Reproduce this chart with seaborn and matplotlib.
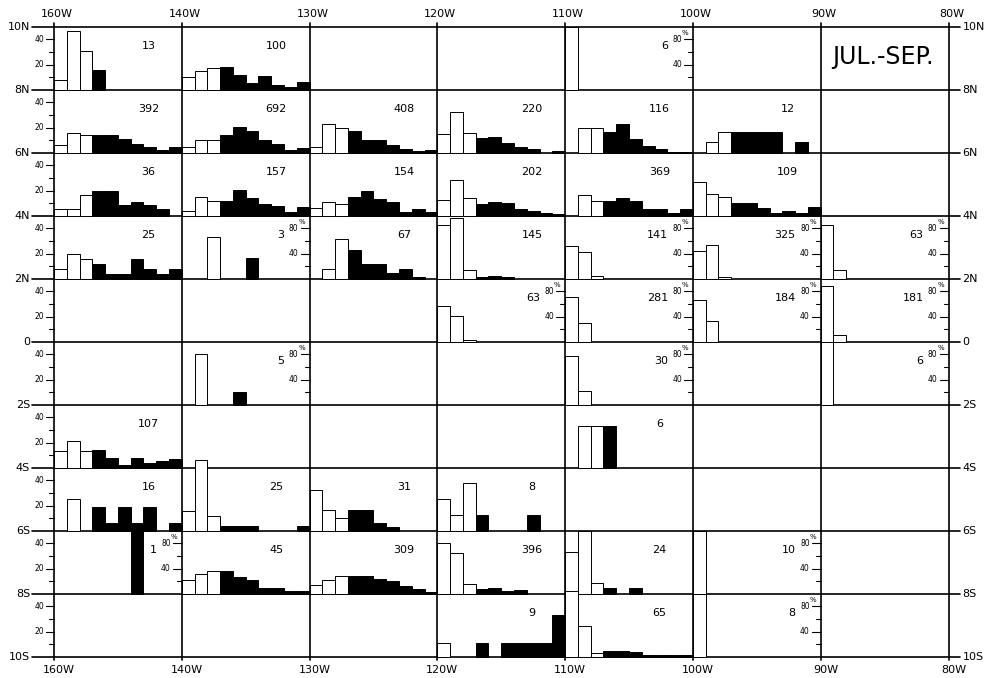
import matplotlib
matplotlib.use("Agg")
import matplotlib.pyplot as plt
import seaborn as sns
import pandas as pd
import numpy as np

sns.set_theme(style="white")
plt.rcParams["font.family"] = ["DejaVu Sans"]
plt.rcParams["text.color"] = "black"

lon_labels = ["160W", "140W", "130W", "120W", "110W", "100W", "90W", "80W"]
lat_labels = ["10N", "8N", "6N", "4N", "2N", "0", "2S", "4S", "6S", "8S", "10S"]
season = "JUL.-SEP."

# one list per 2-degree band:
# (west edge of box, number of obs, top tick of the % scale, % in each of 10 classes)
band_10N_8N = [
    ("160W", 13, 40, [7.7, 46.2, 30.8, 15.4, 0, 0, 0, 0, 0, 0]),
    ("140W", 100, 40, [10, 15, 17, 18, 12, 5, 11, 4, 2, 6]),
    ("110W", 6, 80, [100, 0, 0, 0, 0, 0, 0, 0, 0, 0]),
]
band_8N_6N = [
    ("160W", 392, 40, [6.2, 16, 14.4, 13.9, 14.4, 11.2, 6.7, 4.8, 2.1, 4.5]),
    ("140W", 692, 40, [4.5, 10.4, 10.4, 14.1, 20.5, 17.3, 10.4, 6.9, 2.1, 3.7]),
    ("130W", 408, 40, [4.5, 22.4, 19.5, 17.3, 9.9, 9.9, 5.9, 2.9, 1.3, 1.9]),
    ("120W", 220, 40, [14.7, 32, 15.5, 11.5, 12.3, 7.5, 4.3, 2.7, 0, 1.6]),
    ("110W", 116, 40, [0, 20, 20, 16.5, 23, 10.7, 5.3, 2.7, 0.8, 0.8]),
    ("100W", 12, 40, [0, 8.3, 16.7, 16.7, 16.7, 16.7, 16.7, 0, 8.3, 0]),
]
band_6N_4N = [
    ("160W", 36, 40, [5.6, 5.6, 16.7, 19.4, 19.4, 8.3, 11.1, 8.3, 5.6, 0]),
    ("140W", 157, 40, [3.7, 14.7, 11.5, 11.5, 20.5, 13.9, 9.1, 7.7, 3.2, 6.7]),
    ("130W", 154, 40, [6, 11, 9.5, 15, 20, 13, 11, 3, 5.5, 3]),
    ("120W", 202, 40, [12.3, 28.3, 14.4, 9.6, 10.7, 10.4, 5.6, 3.5, 1.9, 1.6]),
    ("110W", 369, 40, [0, 16.3, 11.7, 11.5, 13.9, 12, 5.6, 5.3, 2.1, 5.3]),
    ("100W", 109, 40, [26.7, 17.3, 14.7, 10.1, 10.1, 6.4, 2.1, 3.5, 2.1, 6.7]),
]
band_4N_2N = [
    ("160W", 25, 40, [8, 20, 16, 12, 4, 4, 16, 8, 4, 8]),
    ("140W", 3, 80, [0, 0, 66.7, 0, 0, 33.3, 0, 0, 0, 0]),
    ("130W", 67, 40, [0, 7.5, 31.3, 22.4, 11.9, 11.9, 4.5, 7.5, 1.5, 0]),
    ("120W", 145, 40, [43, 48, 6.7, 1.1, 1.9, 1.1, 0, 0, 0, 0]),
    ("110W", 141, 80, [52, 43, 5, 0, 0, 0, 0, 0, 0, 0]),
    ("100W", 325, 80, [44, 53, 3, 0, 0, 0, 0, 0, 0, 0]),
    ("90W", 63, 80, [86, 14, 0, 0, 0, 0, 0, 0, 0, 0]),
]
band_2N_0 = [
    ("120W", 63, 80, [57, 41, 2, 0, 0, 0, 0, 0, 0, 0]),
    ("110W", 281, 80, [71, 29, 0, 0, 0, 0, 0, 0, 0, 0]),
    ("100W", 184, 80, [66, 33, 0, 0, 0, 0, 0, 0, 0, 0]),
    ("90W", 181, 80, [89, 11, 0, 0, 0, 0, 0, 0, 0, 0]),
]
band_0_2S = [
    ("140W", 5, 80, [0, 80, 0, 0, 20, 0, 0, 0, 0, 0]),
    ("110W", 30, 80, [78, 22, 0, 0, 0, 0, 0, 0, 0, 0]),
    ("90W", 6, 80, [100, 0, 0, 0, 0, 0, 0, 0, 0, 0]),
]
band_2S_4S = [
    ("160W", 107, 40, [13.3, 20.8, 13.3, 14.4, 8, 2.1, 8, 3.7, 5.1, 6.7]),
    ("110W", 6, 40, [0, 33.3, 33.3, 33.3, 0, 0, 0, 0, 0, 0]),
]
band_4S_6S = [
    ("160W", 16, 40, [0, 25, 0, 18.75, 6.25, 18.75, 6.25, 18.75, 0, 6.25]),
    ("140W", 25, 40, [16, 56, 12, 4, 4, 4, 0, 0, 0, 4]),
    ("130W", 31, 40, [32.3, 16.1, 9.7, 16.1, 16.1, 6.5, 3.2, 0, 0, 0]),
    ("120W", 8, 40, [25, 12.5, 37.5, 12.5, 0, 0, 0, 12.5, 0, 0]),
]
band_6S_8S = [
    ("160W", 1, 80, [0, 0, 0, 0, 0, 0, 100, 0, 0, 0]),
    ("140W", 45, 40, [11.1, 15.6, 17.8, 17.8, 13.3, 11.1, 4.4, 4.4, 2.2, 2.2]),
    ("130W", 309, 40, [7.2, 11.2, 13.9, 14.1, 14.1, 11.7, 10.1, 5.9, 3.7, 1.1]),
    ("120W", 396, 40, [40, 32, 8, 3.5, 4.8, 2.4, 3.2, 0, 0, 0]),
    ("110W", 24, 40, [33.3, 50, 8.3, 4.2, 0, 4.2, 0, 0, 0, 0]),
    ("100W", 10, 80, [100, 0, 0, 0, 0, 0, 0, 0, 0, 0]),
]
band_8S_10S = [
    ("120W", 9, 40, [11.1, 0, 0, 11.1, 0, 11.1, 11.1, 11.1, 11.1, 33.3]),
    ("110W", 65, 40, [52.3, 24.6, 3.1, 4.6, 4.6, 3.5, 1.5, 1.5, 1.5, 1.5]),
    ("100W", 8, 80, [100, 0, 0, 0, 0, 0, 0, 0, 0, 0]),
]

bands = [band_10N_8N, band_8N_6N, band_6N_4N, band_4N_2N, band_2N_0,
         band_0_2S, band_2S_4S, band_4S_6S, band_6S_8S, band_8S_10S]

records = []
for r, band in enumerate(bands):
    for lon, n, scale, pct in band:
        for k, p in enumerate(pct):
            records.append({"band": r, "box": lon_labels.index(lon), "cls": k,
                            "pct": p, "n": n, "scale": scale})
df = pd.DataFrame(records)
# % that fills one box height: 50 on the 0-40 scale, 100 on the 0-80 scale
df["full"] = df["scale"].map({40: 50, 80: 100})
df["base"] = 8 - 2 * df["band"]

# pixel sizes in data units (one box = 1 x 2 deg, about 128 x 63 px)
px_x = 1 / 127.8
px_y = 2 / 63.0

fig = plt.figure(figsize=(9.88, 6.78), dpi=100)
ax = fig.add_axes([54 / 988, 1 - 656.7 / 678, 894.5 / 988, 630 / 678])
ax.set_xlim(0, 7)
ax.set_ylim(-10, 10)
ax.axis("off")

bars = df[df["pct"] > 0]
ax.bar(
    x=bars["box"] + bars["cls"] / 10,
    height=2 * bars["pct"] / bars["full"],
    bottom=bars["base"],
    width=0.1,
    align="edge",
    color=np.where(bars["cls"] < 3, "white", "black"),
    edgecolor="black",
    linewidth=0.7,
    zorder=3,
    clip_on=False,
)

# box outlines, lat/lon labels
for c, lbl in enumerate(lon_labels):
    ax.plot([c, c], [-10 - 3 * px_y, 10 + 4 * px_y], color="black", lw=1.2,
            zorder=2, clip_on=False)
    ax.text(c + 3 * px_x, 10 + 13 * px_y, lbl, ha="center", va="center",
            fontsize=8)
    ax.text(c + 5 * px_x, -10 - 13 * px_y, lbl, ha="center", va="center",
            fontsize=8)

for i, lbl in enumerate(lat_labels):
    lat = 10 - 2 * i
    ax.plot([-22 * px_x, 7 + 12 * px_x], [lat, lat], color="black", lw=1.2,
            zorder=2, clip_on=False)
    ax.text(-24 * px_x, lat, lbl, ha="right", va="center", fontsize=8)
    ax.text(7 + 14 * px_x, lat, lbl, ha="left", va="center", fontsize=8)

# 0-40 % scale along the left edge of every band
for r in range(10):
    base = 8 - 2 * r
    for v in (10, 20, 30, 40):
        y = base + 2 * v / 50
        L = 8 if v in (20, 40) else 5
        ax.plot([-L * px_x, 0], [y, y], color="black", lw=0.8, clip_on=False)
        if v in (20, 40):
            ax.text(-(L + 2) * px_x, y, str(v), ha="right", va="center",
                    fontsize=5.5)

# 0-80 % scale on the east edge of the boxes that use it, and obs counts
boxes = df.drop_duplicates(["band", "box"])
for _, b in boxes.iterrows():
    base = b["base"]
    n_txt = str(int(b["n"]))
    if b["scale"] == 80:
        xe = b["box"] + 1
        for v in (20, 40, 60, 80):
            y = base + 2 * v / 100
            L = 9 if v in (40, 80) else 5
            ax.plot([xe - L * px_x, xe], [y, y], color="black", lw=0.8,
                    zorder=2)
            if v in (40, 80):
                ax.text(xe - (L + 2) * px_x, y, str(v), ha="right",
                        va="center", fontsize=5.5)
        ax.text(xe - 8 * px_x, base + 2 * 0.9, "%", ha="center", va="center",
                fontsize=5)
        ax.text(xe - 25 * px_x, base + 1.4, n_txt, ha="right", va="center",
                fontsize=8)
    else:
        ax.text(b["box"] + 0.74, base + 1.4, n_txt, ha="center",
                va="center", fontsize=8)

ax.text(6.49, 9.04, season, ha="center", va="center", fontsize=17)

fig.savefig("out.png", dpi=100)
